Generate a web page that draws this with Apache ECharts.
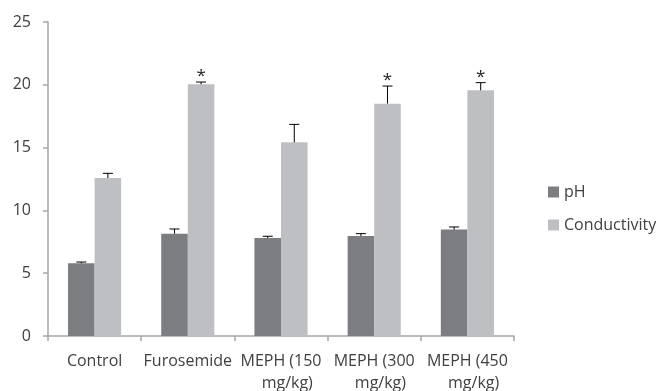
<!DOCTYPE html>
<html><head><meta charset="utf-8">
<script src="https://cdn.jsdelivr.net/npm/echarts@6/dist/echarts.min.js"></script>
<style>html,body{margin:0;padding:0;background:#fff}#c{width:656px;height:391px}</style>
</head><body><div id="c"></div>
<script>
const categories = ['Control', 'Furosemide', 'MEPH (150\n   mg/kg)', 'MEPH (300\n   mg/kg)', 'MEPH (450\n   mg/kg)'];
const phValues = [5.79, 8.15, 7.80, 7.96, 8.47];
const phErrors = [0.1, 0.37, 0.14, 0.19, 0.21];
const condValues = [12.58, 20.04, 15.42, 18.5, 19.56];
const condErrors = [0.37, 0.18, 1.43, 1.4, 0.61];
const phMarks = ['', '', '', '', ''];
const condMarks = ['', '*', '', '*', '*'];
const yTicks = {min: 0, max: 25, interval: 5};

const chart = echarts.init(document.getElementById('c'), null, {renderer: 'canvas'});
const FONT = '"Open Sans", sans-serif';
const TXT = '#404040';

function errSeries(values, errors, marks, seriesIdx) {
  return {
    type: 'custom',
    z: 10,
    silent: true,
    data: values.map((v, i) => [i, v, v + errors[i], marks[i]]),
    renderItem: function (params, api) {
      const i = api.value(0);
      const band = api.size([1, 0])[0];
      const bw = band * 0.285;
      const xc = api.coord([i, 0])[0] + (seriesIdx === 0 ? -bw / 2 : bw / 2);
      const p0 = api.coord([i, api.value(1)]);
      const p1 = api.coord([i, api.value(2)]);
      const children = [
        {type: 'line', shape: {x1: xc, y1: p0[1], x2: xc, y2: p1[1]}, style: {stroke: '#000', lineWidth: 1}},
        {type: 'line', shape: {x1: xc - 5, y1: p1[1], x2: xc + 5, y2: p1[1]}, style: {stroke: '#000', lineWidth: 1}}
      ];
      const m = marks[i];
      if (m) {
        children.push({type: 'text', style: {text: m, x: xc, y: p1[1] + 3, align: 'center', verticalAlign: 'bottom', font: '17px ' + FONT, fill: '#222'}});
      }
      return {type: 'group', children: children};
    }
  };
}

chart.setOption({
  animation: false,
  backgroundColor: '#fff',
  grid: {left: 48, right: 142, top: 22, bottom: 55, outerBoundsMode: 'none', containLabel: false},
  legend: {
    orient: 'vertical', left: 543, top: 179, itemWidth: 11, itemHeight: 11, itemGap: 17,
    icon: 'rect', textStyle: {color: TXT, fontSize: 16, fontFamily: FONT, lineHeight: 16},
    data: ['pH', 'Conductivity']
  },
  xAxis: {
    type: 'category', data: categories,
    axisLine: {lineStyle: {color: '#a6a6a6', width: 1.5}},
    axisTick: {show: true, length: 5, lineStyle: {color: '#a6a6a6', width: 1.5}},
    axisLabel: {color: TXT, fontSize: 16, fontFamily: FONT, margin: 14, lineHeight: 22, interval: 0}
  },
  yAxis: {
    type: 'value', min: yTicks.min, max: yTicks.max, interval: yTicks.interval,
    splitLine: {show: false},
    axisLine: {show: true, lineStyle: {color: '#a6a6a6', width: 1.5}},
    axisTick: {show: true, length: 5, lineStyle: {color: '#a6a6a6', width: 1.5}},
    axisLabel: {color: TXT, fontSize: 16, fontFamily: FONT, margin: 17}
  },
  series: [
    {name: 'pH', type: 'bar', data: phValues, barWidth: '28.5%', barGap: '0%', itemStyle: {color: '#7c7d81'}},
    {name: 'Conductivity', type: 'bar', data: condValues, barWidth: '28.5%', barGap: '0%', itemStyle: {color: '#bebfc3'}},
    errSeries(phValues, phErrors, phMarks, 0),
    errSeries(condValues, condErrors, condMarks, 1)
  ]
});
</script>
</body></html>
